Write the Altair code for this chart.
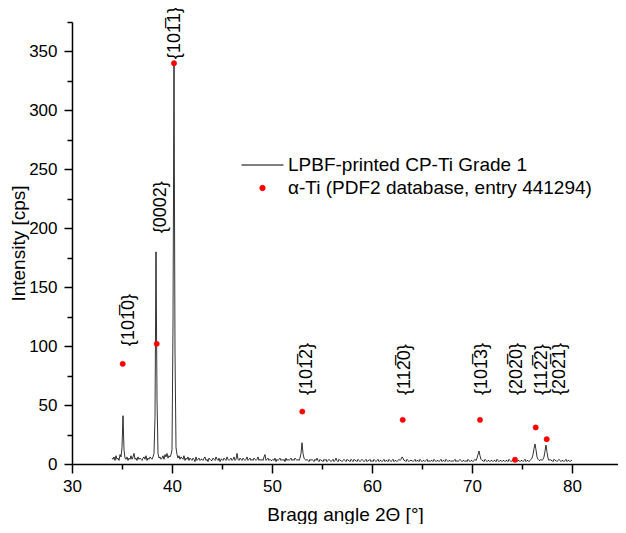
import altair as alt
import numpy as np
import pandas as pd

FONT = "Liberation Sans"
SERIES_MEAS = "LPBF-printed CP-Ti Grade 1"
SERIES_REF = "α-Ti (PDF2 database, entry 441294)"

# Measured pattern: 2θ from 34.0° to 80.0°, step 0.1° (rows = one degree each)
intensity = [
    5, 4, 6, 3, 7, 4, 5, 3, 8, 6,          # 34
    14, 41, 12, 5, 4, 6, 3, 5, 4, 7,       # 35
    4, 6, 9, 4, 5, 3, 6, 4, 5, 4,          # 36
    3, 5, 6, 4, 7, 3, 5, 4, 6, 5,          # 37
    4, 6, 9, 40, 180, 55, 9, 5, 6, 4,      # 38
    5, 7, 4, 8, 6, 9, 5, 7, 6, 8,          # 39
    12, 118, 338, 95, 14, 8, 5, 7, 4, 6,   # 40
    5, 4, 7, 3, 5, 4, 6, 3, 5, 4,          # 41
    3, 5, 4, 2, 6, 3, 4, 5, 3, 4,          # 42
    4, 3, 5, 6, 3, 4, 2, 5, 4, 3,          # 43
    3, 5, 4, 3, 6, 4, 3, 5, 2, 4,          # 44
    4, 3, 5, 4, 3, 6, 4, 3, 4, 5,          # 45
    3, 4, 6, 3, 4, 9, 4, 3, 5, 4,          # 46
    3, 5, 4, 3, 4, 6, 3, 4, 5, 3,          # 47
    4, 3, 5, 4, 3, 4, 6, 3, 4, 3,          # 48
    4, 3, 6, 8, 3, 4, 5, 3, 4, 3,          # 49
    3, 4, 3, 5, 2, 4, 3, 4, 5, 3,          # 50
    4, 3, 4, 2, 5, 3, 4, 3, 4, 5,          # 51
    3, 4, 3, 5, 4, 3, 4, 3, 5, 9,          # 52
    18, 9, 5, 4, 3, 4, 3, 2, 4, 3,         # 53
    4, 3, 2, 4, 3, 5, 3, 2, 4, 3,          # 54
    3, 2, 4, 3, 4, 2, 3, 4, 3, 2,          # 55
    3, 4, 2, 3, 5, 3, 2, 4, 3, 3,          # 56
    2, 3, 4, 3, 2, 4, 3, 3, 2, 4,          # 57
    3, 2, 4, 3, 3, 2, 4, 3, 2, 3,          # 58
    4, 3, 2, 3, 4, 2, 3, 3, 4, 2,          # 59
    3, 2, 4, 3, 2, 3, 4, 2, 3, 3,          # 60
    2, 3, 4, 2, 3, 3, 2, 4, 3, 2,          # 61
    3, 4, 2, 3, 3, 2, 3, 4, 3, 4,          # 62
    6, 5, 3, 3, 2, 4, 3, 2, 3, 3,          # 63
    3, 2, 3, 4, 2, 3, 3, 2, 4, 3,          # 64
    2, 3, 3, 2, 3, 4, 2, 3, 2, 3,          # 65
    3, 2, 4, 3, 2, 3, 3, 2, 3, 4,          # 66
    2, 3, 3, 2, 4, 3, 2, 3, 3, 2,          # 67
    3, 2, 3, 4, 2, 3, 2, 3, 4, 3,          # 68
    2, 3, 3, 2, 3, 2, 4, 3, 2, 3,          # 69
    3, 2, 3, 4, 3, 5, 8, 11, 7, 4,         # 70
    3, 3, 2, 4, 3, 2, 3, 3, 2, 3,          # 71
    3, 2, 3, 3, 2, 4, 3, 2, 3, 3,          # 72
    2, 3, 3, 2, 3, 3, 2, 4, 3, 2,          # 73
    3, 3, 2, 3, 3, 2, 3, 3, 2, 3,          # 74
    3, 2, 3, 4, 2, 3, 3, 2, 3, 4,          # 75
    5, 8, 13, 17, 12, 6, 4, 3, 3, 4,       # 76
    3, 4, 6, 11, 16, 10, 5, 3, 4, 3,       # 77
    3, 2, 4, 3, 3, 2, 3, 4, 3, 2,          # 78
    3, 3, 2, 3, 4, 2, 3, 3, 2, 3,          # 79
    3,                                     # 80
]
two_theta = np.round(np.arange(len(intensity)) * 0.1 + 34.0, 1)

# Reference α-Ti reflections
ref_2theta = [35.07, 38.47, 40.2, 53.03, 63.07, 70.8, 74.3, 76.37, 77.47]
ref_int = [85, 102, 340, 44.5, 37.5, 37.5, 3.6, 31, 21]

# Reflection labels (Miller-Bravais indices); x = baseline of the rotated text
OB = "\u0305"
label_text = ["{101" + OB + "0}", "{0002}", "{101" + OB + "1}", "{101" + OB + "2}",
              "{112" + OB + "0}", "{101" + OB + "3}", "{202" + OB + "0}",
              "{112" + OB + "2}", "{202" + OB + "1}"]
label_x = [36.2, 39.4, 40.8, 54.0, 63.8, 71.47, 74.97, 77.47, 79.27]
label_y = [100, 195.7, 343.5, 58.5, 58.5, 58.5, 58.5, 58.5, 58.5]

df_line = pd.DataFrame({"two_theta": two_theta, "intensity": intensity,
                        "series": SERIES_MEAS})
df_ref = pd.DataFrame({"two_theta": ref_2theta, "intensity": ref_int,
                       "series": SERIES_REF})
df_lab = pd.DataFrame({"x": label_x, "y": label_y, "text": label_text})

DOM = [SERIES_MEAS, SERIES_REF]
xscale = alt.Scale(domain=[30, 84.6], nice=False, zero=False)
yscale = alt.Scale(domain=[0, 375], nice=False)
stroke_scale = alt.Scale(domain=DOM, range=["black", "red"])
fill_scale = alt.Scale(domain=DOM, range=["transparent", "red"])
shape_scale = alt.Scale(domain=DOM, range=["M-7.94,0H7.94", "circle"])


def make_legend():
    return alt.Legend(
        title=None, orient="none", legendX=181, legendY=133.5, padding=0,
        labelFont=FONT, labelFontSize=19, labelColor="black", labelLimit=600,
        symbolSize=28, symbolStrokeWidth=1, symbolOpacity=1,
        labelOffset=16, rowPadding=3,
    )


line = alt.Chart(df_line).mark_line(strokeWidth=0.8).encode(
    x=alt.X("two_theta:Q", scale=xscale,
            axis=alt.Axis(values=[30, 40, 50, 60, 70, 80], tickSize=9,
                          labelPadding=5, labelFlush=False,
                          title="Bragg angle 2Θ [°]",
                          titleBaseline="alphabetic", titleY=56,
                          orient="bottom")),
    y=alt.Y("intensity:Q", scale=yscale,
            axis=alt.Axis(values=[0, 50, 100, 150, 200, 250, 300, 350],
                          tickSize=8, labelPadding=7, labelFlush=False,
                          title="Intensity [cps]", titleX=-54,
                          titleBaseline="middle", orient="left")),
    stroke=alt.Stroke("series:N", scale=stroke_scale, legend=make_legend()),
)

points = alt.Chart(df_ref).mark_point(filled=True, size=28, opacity=1,
                                      strokeWidth=0.5).encode(
    x=alt.X("two_theta:Q", scale=xscale,
            axis=alt.Axis(values=[35, 45, 55, 65, 75], tickSize=5,
                          labels=False, domain=False, title="", orient="bottom")),
    y=alt.Y("intensity:Q", scale=yscale,
            axis=alt.Axis(values=[25, 75, 125, 175, 225, 275, 325, 375],
                          tickSize=5, labels=False, domain=False, title="",
                          orient="left")),
    stroke=alt.Stroke("series:N", scale=stroke_scale, legend=make_legend()),
    fill=alt.Fill("series:N", scale=fill_scale, legend=make_legend()),
    shape=alt.Shape("series:N", scale=shape_scale, legend=make_legend()),
)

labels = alt.Chart(df_lab).mark_text(
    angle=270, align="left", baseline="alphabetic", font=FONT, fontSize=18,
    color="black"
).encode(
    x=alt.X("x:Q", scale=xscale, axis=None),
    y=alt.Y("y:Q", scale=yscale, axis=None),
    text="text:N",
)

chart = alt.layer(line, points, labels).resolve_axis(
    x="independent", y="independent"
).properties(
    width=546, height=442,
    padding={"left": 64, "top": 14, "right": 0, "bottom": 60},
    autosize=alt.AutoSizeParams(type="none"),
).configure_axis(
    labelFont=FONT, titleFont=FONT, labelFontSize=17, titleFontSize=19,
    labelColor="black", titleColor="black", titleFontWeight="normal",
    domainColor="black", tickColor="black", domainWidth=1.5, tickWidth=1.5,
    grid=False,
).configure_view(strokeWidth=0)

chart.save("out.html", embed_options={"renderer": "svg", "actions": False})
